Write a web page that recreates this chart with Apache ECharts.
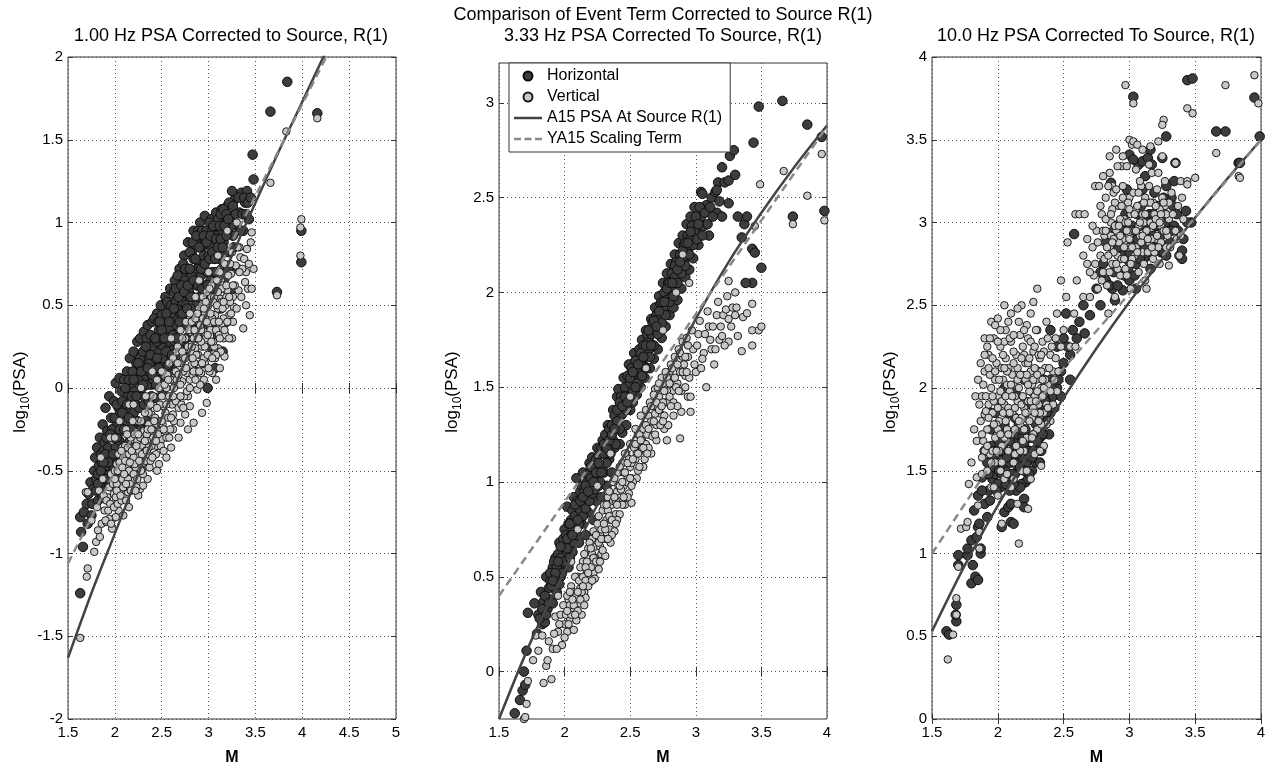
<!DOCTYPE html>
<html><head><meta charset="utf-8">
<script src="https://cdn.jsdelivr.net/npm/echarts@6/dist/echarts.min.js"></script>
<style>html,body{margin:0;padding:0;background:#fff}#c{width:1275px;height:771px}</style>
</head><body><div id="c"></div>
<script>
// ---------- DATA ----------
const titles = ['1.00 Hz PSA Corrected to Source, R(1)', 'Comparison of Event Term Corrected to Source R(1)', '3.33 Hz PSA Corrected To Source, R(1)', '10.0 Hz PSA Corrected To Source, R(1)'];
const seriesNames = ['Horizontal', 'Vertical', 'A15 PSA At Source R(1)', 'YA15 Scaling Term'];
const yTicks2 = [0, 0.5, 1, 1.5, 2, 2.5, 3];

// Panel 1: 1.00 Hz
const H1 = [[1.63,-1.24],[1.66,-0.96],[1.63,-0.78],[1.67,-0.75],[1.70,-0.70],[1.64,-0.87],[1.72,-0.64],[1.74,-0.57],[1.71,-0.82],[1.76,-0.70],[1.78,-0.50],[1.77,-0.61],[1.79,-0.42],[1.75,-0.77],[1.81,-0.36],[1.80,-0.55],
[1.83,-0.47],[1.84,-0.30],[1.86,-0.60],[1.85,-0.40],[1.87,-0.22],[1.88,-0.52],[1.89,-0.33],[1.82,-0.68],[1.90,-0.12],[1.91,-0.45],[1.92,-0.26],[1.93,-0.58],[1.94,-0.05],[1.95,-0.38],[1.96,-0.18],[1.97,-0.50],[1.98,-0.30],[1.99,-0.08],
[2.00,-0.42],[2.01,0.03],[2.02,-0.22],[2.03,-0.55],[2.04,-0.12],[2.05,0.06],[2.06,-0.35],[2.07,-0.02],[2.08,-0.25],[2.09,-0.48],[2.10,0.05],[2.11,-0.15],[2.12,-0.38],[2.13,0.10],[2.14,-0.05],[2.15,-0.28],[2.16,0.18],[2.17,-0.42],[2.18,0.02],[2.19,-0.18],
[2.20,0.22],[2.21,-0.32],[2.22,0.08],[2.23,-0.10],[2.24,0.28],[2.25,-0.22],[2.26,0.12],[2.27,0.30],[2.28,-0.04],[2.29,0.20],[2.30,-0.30],[2.31,0.34],[2.32,0.05],[2.33,0.18],[2.34,-0.12],[2.35,0.38],[2.36,0.10],[2.37,0.25],[2.38,-0.18],[2.39,0.02],
[2.40,0.40],[2.41,0.16],[2.42,0.30],[2.43,-0.06],[2.44,0.22],[2.45,0.45],[2.46,0.08],[2.47,0.35],[2.48,0.14],[2.49,0.50],
[2.50,0.26],[2.51,-0.02],[2.52,0.42],[2.53,0.18],[2.54,0.55],[2.55,0.32],[2.56,0.06],[2.57,0.47],[2.58,0.24],[2.59,0.60],
[2.60,0.38],[2.61,0.12],[2.62,0.52],[2.63,0.30],[2.64,0.65],[2.65,0.44],[2.66,0.20],[2.67,0.58],[2.68,0.36],[2.69,0.72],
[2.70,0.48],[2.71,0.25],[2.72,0.62],[2.73,0.40],[2.74,0.80],[2.75,0.55],[2.76,0.30],[2.77,0.70],[2.78,0.88],[2.79,0.46],
[2.80,0.62],[2.81,0.20],[2.82,0.82],[2.83,0.40],[2.84,0.95],[2.85,0.68],[2.86,0.10],[2.87,0.52],[2.88,0.90],[2.89,0.30],
[2.90,0.75],[2.91,1.00],[2.92,0.45],[2.93,0.85],[2.94,0.15],[2.95,0.62],[2.96,1.04],[2.97,0.35],[2.98,0.78],[2.99,0.00],
[3.00,0.92],[3.01,0.55],[3.02,0.25],[3.03,1.02],[3.04,0.70],[3.05,0.40],[3.06,0.88],[3.07,0.12],[3.08,1.06],[3.09,0.60],
[3.10,0.32],[3.11,0.96],[3.12,0.78],[3.13,0.48],[3.14,1.08],[3.15,0.22],[3.16,0.88],[3.17,0.66],[3.18,1.00],[3.19,0.40],
[3.20,1.10],[3.22,0.82],[3.23,0.58],[3.25,1.04],[3.26,0.92],[3.28,1.14],[3.30,0.98],[3.31,0.72],[3.33,1.06],[3.35,1.18],
[3.37,0.95],[3.39,1.12],[3.41,1.19],[3.43,1.02],[3.48,1.26],[3.47,1.41],[3.25,1.19],
[3.66,1.67],[3.84,1.85],[3.99,0.95],[3.99,0.76],[4.16,1.66],[3.73,0.58],
[1.80,-0.62],[1.82,-0.52],[1.84,-0.58],[1.86,-0.45],[1.87,-0.66],[1.88,-0.38],[1.90,-0.55],[1.91,-0.30],[1.92,-0.47],[1.93,-0.36],[1.95,-0.56],[1.96,-0.42],[1.97,-0.25],[1.99,-0.48],[2.00,-0.18],[2.01,-0.36],[2.02,-0.10],[2.03,-0.28],[2.04,-0.45],[2.05,-0.32],[2.06,-0.15],[2.07,-0.40],[2.08,-0.08],[2.09,-0.22],[2.10,-0.35],[2.11,0.00],[2.12,-0.20],[2.13,-0.45],[2.14,-0.15],[2.15,0.05],[2.16,-0.32],[2.17,-0.08],[2.18,-0.25],[2.19,0.10],[2.20,-0.15],[2.21,-0.02],[2.22,-0.38],[2.23,0.15],[2.24,-0.20],[2.25,0.05],[2.26,-0.12],[2.27,0.18],[2.28,-0.25],[2.29,0.00],[2.30,0.22],[2.31,-0.10],[2.32,0.12],[2.33,-0.20],[2.34,0.30],[2.35,0.02],[2.36,-0.08],[2.37,0.15],[2.38,0.32],[2.39,-0.05],[2.40,0.25],[2.41,0.05],[2.42,0.42],[2.43,0.18],[2.44,0.02],[2.45,0.28],[2.46,0.40],[2.47,0.12],[2.48,0.30],[2.49,0.05],[2.50,0.44],[2.51,0.18],[2.52,0.30],[2.53,0.08],[2.54,0.40],[2.55,0.22],[2.56,0.52],[2.57,0.14],[2.58,0.36],[2.59,0.28],[2.60,0.50],[2.61,0.20],[2.62,0.42],[2.63,0.58],[2.64,0.28],[2.65,0.52],[2.66,0.38],[2.67,0.68],[2.68,0.25],[2.69,0.48],[2.70,0.60],[2.71,0.38],[2.72,0.52],[2.73,0.75],[2.74,0.45],[2.75,0.65],[2.76,0.50],[2.77,0.38],[2.78,0.72],[2.79,0.58],[2.80,0.82],[2.81,0.48],[2.82,0.68],[2.83,0.55],[2.84,0.78],[2.85,0.35],[2.86,0.88],[2.87,0.62],[2.88,0.72],[2.89,0.95],[2.90,0.55],[2.91,0.85],[2.92,0.68],[2.93,0.95],[2.94,0.50],[2.95,0.80],[2.96,0.90],[2.97,0.58],[2.98,0.95],[2.99,0.70],[3.00,0.80],[3.01,1.00],[3.02,0.65],[3.03,0.85],[3.04,0.95],[3.05,0.55],[3.06,0.78],[3.07,0.98],[3.08,0.70],[3.09,0.92],[3.10,1.02],[3.11,0.50],[3.12,0.88],[3.13,1.05],[3.14,0.72],[3.15,0.95],[3.16,1.08],[3.17,0.82],[3.18,0.60],[3.19,1.05],[3.20,0.95],[3.21,0.72],[3.22,1.12],[3.24,0.98],[3.26,1.10],[3.27,0.85],[3.29,1.05],[3.32,1.15],[3.34,0.95],[3.36,1.05],[3.38,1.15],[3.40,1.05],[3.42,1.12],[3.45,1.15]];
const H1_core = [[2.60,0.45],[2.62,0.32],[2.63,0.48],[2.65,0.60],[2.66,0.30],[2.68,0.55],[2.69,0.40],[2.71,0.62],[2.72,0.45],[2.74,0.58],[2.75,0.72],[2.77,0.48],[2.78,0.62],[2.80,0.72],[2.81,0.55],[2.83,0.88],[2.84,0.65],[2.86,0.78],[2.87,0.92],[2.89,0.62],[2.90,0.85],[2.92,0.72],[2.93,0.60],[2.95,0.92],[2.96,0.75],[2.98,0.88],[2.99,0.62],[3.01,0.78],[3.02,0.92],[3.04,0.82],[3.05,0.98],[3.07,0.78],[3.08,0.90],[3.10,0.85],[3.12,0.98],[3.13,0.90],[3.15,0.85],[3.17,0.98],[3.19,0.92],[3.21,1.02],
[2.02,-0.30],[2.05,-0.25],[2.08,-0.15],[2.10,-0.25],[2.13,-0.10],[2.15,-0.18],[2.18,-0.05],[2.20,0.05],[2.23,-0.05],[2.25,0.15],[2.28,0.10],[2.30,0.02],[2.33,0.25],[2.35,0.12],[2.38,0.20],[2.40,0.08],[2.43,0.30],[2.45,0.18],[2.48,0.40],[2.50,0.35],[2.53,0.30],[2.55,0.45],[2.58,0.40],[1.90,-0.40],[1.93,-0.45],[1.95,-0.28],[1.98,-0.40],[1.85,-0.50],[1.88,-0.45],[1.82,-0.58]];
const V1 = [[1.63,-1.51],[1.71,-1.09],[1.70,-1.14],[1.69,-0.63],[1.71,-0.63],[1.75,-0.80],[1.78,-0.99],[1.80,-0.93],[1.82,-0.86],[1.84,-0.90],[1.86,-0.82],[1.81,-0.72],[1.83,-0.62],[1.87,-0.55],[1.89,-0.74],[1.91,-0.81],[1.94,-0.79],[1.97,-0.85],[2.01,-0.78],[2.04,-0.74],[2.09,-0.77],[1.92,-0.66],[1.96,-0.52],[1.99,-0.64],[2.02,-0.46],[2.06,-0.58],[2.08,-0.36],[2.11,-0.52],[2.14,-0.63],[2.17,-0.46],[2.19,-0.31],[2.21,-0.56],[2.24,-0.41],[2.27,-0.61],[2.30,-0.59],[2.31,-0.26],[2.34,-0.46],[2.37,-0.31],[2.39,-0.16],[2.41,-0.41],[2.44,-0.23],[2.47,-0.46],[2.50,-0.31],[2.52,-0.11],[2.54,-0.26],[2.57,-0.06],[2.60,-0.36],[2.62,-0.16],[2.64,0.01],[2.67,-0.06],[2.70,-0.21],[2.72,0.04],[2.75,-0.16],[2.77,0.09],[2.80,-0.11],[2.82,0.14],[2.84,-0.21],[2.86,0.24],[2.88,-0.01],[2.90,0.29],[2.92,0.09],[2.95,0.34],[2.98,-0.09],[3.00,0.39],[3.02,0.19],[3.04,0.09],[3.07,0.44],[3.10,0.24],[3.12,0.54],[3.14,0.39],[3.17,0.19],[3.20,0.59],[3.22,0.44],[3.24,0.69],[3.27,0.49],[3.29,0.74],[3.32,0.59],[3.34,0.79],[3.37,0.36],[3.39,0.64],[3.41,0.84],[3.44,0.44],[3.46,0.94],[3.48,0.72],[3.45,0.88],[3.40,0.70],[3.36,0.72],
[1.85,-0.42],[1.95,-0.30],[2.00,-0.30],[2.05,-0.20],[2.12,-0.25],[2.15,-0.10],[2.20,-0.10],[2.25,-0.20],[2.28,0.00],[2.33,-0.05],[2.36,-0.15],[2.40,0.10],[2.45,0.05],[2.48,-0.10],[2.50,0.10],[2.55,0.00],[2.58,0.15],[2.60,0.30],[2.63,0.10],[2.66,0.22],[2.70,0.35],[2.73,0.20],[2.76,0.40],[2.80,0.45],[2.83,0.30],[2.86,0.55],[2.90,0.65],[2.93,0.50],[2.96,0.15],[3.00,0.70],[3.03,0.55],[3.06,0.25],[3.10,0.80],[3.13,0.65],[3.16,0.30],[3.20,0.95],[3.23,0.75],[3.26,0.55],[3.30,1.00],[3.33,0.85],[3.42,0.60],[3.18,0.50],[3.08,0.05],[2.93,-0.15],[2.78,-0.25],[2.68,-0.30],[2.55,-0.42],[2.45,-0.50],[2.35,-0.55],[2.25,-0.65],[2.15,-0.72],[2.45,-0.35],[2.62,-0.25],[2.78,-0.05],[2.95,0.05],[3.12,0.12],[3.25,0.30],
[3.83,1.55],[3.66,1.24],[4.16,1.63],[3.99,1.02],[3.98,0.97],[3.98,0.80],[3.73,0.56],
[1.88,-0.65],[1.90,-0.80],[1.91,-0.68],[1.93,-0.74],[1.94,-0.60],[1.95,-0.70],[1.96,-0.82],[1.98,-0.58],[1.99,-0.72],[2.00,-0.50],[2.01,-0.66],[2.02,-0.58],[2.03,-0.70],[2.04,-0.40],[2.05,-0.62],[2.06,-0.48],[2.07,-0.68],[2.08,-0.55],[2.09,-0.42],[2.10,-0.60],[2.11,-0.35],[2.12,-0.68],[2.13,-0.48],[2.14,-0.55],[2.15,-0.40],[2.16,-0.58],[2.17,-0.30],[2.18,-0.62],[2.19,-0.50],[2.20,-0.42],[2.21,-0.28],[2.22,-0.48],[2.23,-0.60],[2.24,-0.32],[2.25,-0.52],[2.26,-0.38],[2.27,-0.45],[2.28,-0.20],[2.29,-0.50],[2.30,-0.35],[2.31,-0.45],[2.32,-0.15],[2.33,-0.38],[2.34,-0.28],[2.35,-0.40],[2.36,-0.22],[2.37,-0.48],[2.38,-0.10],[2.39,-0.35],[2.40,-0.25],[2.41,-0.05],[2.42,-0.32],[2.43,-0.18],[2.44,-0.40],[2.45,-0.12],[2.46,-0.28],[2.47,0.00],[2.48,-0.20],[2.49,-0.35],[2.50,-0.05],[2.51,-0.22],[2.52,-0.38],[2.53,0.02],[2.54,-0.15],[2.55,-0.30],[2.56,0.08],[2.57,-0.18],[2.58,-0.05],[2.59,-0.25],[2.60,0.05],[2.61,-0.10],[2.62,0.18],[2.63,-0.20],[2.64,0.10],[2.65,-0.08],[2.66,0.05],[2.67,0.25],[2.68,-0.12],[2.69,0.15],[2.70,0.02],[2.71,-0.10],[2.72,0.22],[2.73,0.10],[2.74,-0.05],[2.75,0.30],[2.76,0.12],[2.77,-0.02],[2.78,0.25],[2.79,0.35],[2.80,0.05],[2.81,0.22],[2.82,0.40],[2.83,0.08],[2.84,0.30],[2.85,0.15],[2.86,0.42],[2.87,0.10],[2.88,0.32],[2.89,0.20],[2.90,0.48],[2.91,0.02],[2.92,0.35],[2.93,0.25],[2.94,0.55],[2.95,0.18],[2.96,0.45],[2.97,0.30],[2.98,0.58],[2.99,0.20],[3.00,0.50],[3.01,0.10],[3.02,0.35],[3.03,0.62],[3.04,0.42],[3.05,0.28],[3.06,0.55],[3.07,0.18],[3.08,0.35],[3.09,0.65],[3.10,0.48],[3.11,0.32],[3.12,0.70],[3.13,0.22],[3.14,0.52],[3.15,0.62],[3.16,0.42],[3.17,0.75],[3.18,0.32],[3.19,0.55],[3.21,0.68],[3.22,0.30],[3.23,0.52],[3.25,0.82],[3.26,0.40],[3.28,0.62],[3.30,0.48],[3.31,0.85],[3.33,0.70],[3.35,0.55],[3.38,0.78],[3.40,0.50],[3.43,0.75],[3.46,0.60]];
const V1_core = [[2.00,-0.55],[2.02,-0.62],[2.03,-0.50],[2.05,-0.45],[2.06,-0.65],[2.08,-0.48],[2.09,-0.60],[2.11,-0.44],[2.12,-0.58],[2.14,-0.36],[2.15,-0.50],[2.17,-0.62],[2.18,-0.38],[2.20,-0.52],[2.21,-0.46],[2.23,-0.35],[2.24,-0.55],[2.26,-0.44],[2.27,-0.30],[2.29,-0.40],[2.30,-0.52],[2.32,-0.32],[2.33,-0.44],[2.35,-0.25],[2.36,-0.36],[2.38,-0.44],[2.39,-0.25],[2.41,-0.30],[2.42,-0.20],[2.44,-0.32],[2.13,-0.28],[2.19,-0.20],[2.25,-0.28],[2.10,-0.52],[2.16,-0.45],[2.22,-0.62],[2.28,-0.50],[2.34,-0.38],[2.40,-0.42],[2.07,-0.38],
[2.80,0.00],[2.82,0.25],[2.84,0.10],[2.85,0.35],[2.87,0.20],[2.88,0.45],[2.90,0.10],[2.91,0.38],[2.93,0.15],[2.94,0.42],[2.96,0.25],[2.97,0.52],[2.99,0.32],[3.00,0.12],[3.02,0.45],[3.03,0.28],[3.05,0.52],[3.06,0.40],[3.08,0.20],[3.09,0.50],[3.11,0.40],[3.12,0.30],[3.14,0.60],[3.15,0.48],[3.17,0.35],[3.19,0.62],[3.20,0.40],[3.22,0.55],[3.24,0.45],[3.26,0.62],[2.86,0.05],[2.92,0.28],[2.98,0.40],[3.04,0.18],[3.10,0.58],[3.16,0.52],[2.83,0.18],[2.89,0.30],[2.95,0.48],[3.01,0.60],
[2.50,-0.20],[2.55,-0.10],[2.60,-0.18],[2.65,0.10],[2.70,-0.05],[2.75,0.18],[2.58,-0.30],[2.63,0.00],[2.68,0.08],[2.73,-0.12],[2.52,-0.25],[2.57,0.05],[2.62,-0.05],[2.67,0.15],[2.72,0.30]];
const A15_1 = [[1.5,-1.63],[1.75,-1.24],[2.0,-0.88],[2.25,-0.52],[2.5,-0.18],[2.75,0.16],[3.0,0.48],[3.25,0.80],[3.5,1.12],[3.75,1.43],[4.0,1.73],[4.25,2.03],[4.3,2.09]];
const YA15_1 = [[1.5,-1.06],[2.0,-0.505],[2.5,0.05],[3.0,0.605],[3.5,1.16],[4.0,1.715],[4.3,2.05]];

// Panel 2: 3.33 Hz
const H2 = [[1.62,-0.22],[1.66,-0.15],[1.68,-0.10],[1.70,-0.07],[1.69,0.00],[1.71,0.11],[1.72,0.31],
[1.77,0.36],[1.79,0.20],[1.80,0.30],[1.82,0.42],[1.83,0.25],[1.84,0.37],[1.85,0.26],[1.86,0.50],[1.87,0.33],[1.88,0.44],[1.89,0.48],[1.90,0.38],[1.91,0.55],[1.92,0.45],[1.93,0.60],[1.94,0.42],[1.95,0.52],[1.96,0.68],[1.97,0.50],[1.98,0.64],[1.99,0.57],[2.00,0.75],
[2.01,0.62],[2.02,0.87],[2.03,0.55],[2.04,0.70],[2.05,0.80],[2.06,0.63],[2.07,0.92],[2.08,0.74],[2.09,1.02],[2.10,0.82],[2.11,0.68],[2.12,0.95],[2.13,0.78],[2.14,1.05],[2.15,0.88],[2.16,0.72],[2.17,1.00],[2.18,0.84],[2.19,1.10],[2.20,0.93],
[2.21,1.13],[2.22,0.80],[2.23,1.02],[2.24,0.90],[2.25,1.18],[2.26,0.98],[2.27,1.08],[2.28,0.92],[2.29,1.22],[2.30,1.05],[2.31,1.15],[2.32,0.98],[2.33,1.30],[2.34,1.12],[2.35,1.22],[2.36,1.05],[2.37,1.38],[2.38,1.18],[2.39,1.28],[2.40,1.45],
[2.41,1.49],[2.42,1.20],[2.43,1.35],[2.44,1.26],[2.45,1.55],[2.46,1.40],[2.47,1.30],[2.48,1.48],[2.49,1.62],[2.50,1.38],[2.51,1.52],[2.52,1.42],[2.53,1.68],[2.54,1.55],[2.55,1.46],[2.56,1.65],[2.57,1.58],[2.58,1.50],[2.59,1.75],[2.60,1.62],
[2.61,1.55],[2.62,1.80],[2.63,1.68],[2.64,1.75],[2.65,1.60],[2.66,1.86],[2.67,1.72],[2.68,1.65],[2.69,1.92],[2.70,1.80],[2.71,1.70],[2.72,1.98],[2.73,1.85],[2.74,1.76],[2.75,2.05],[2.76,1.90],[2.77,1.82],[2.78,2.10],[2.79,1.96],[2.80,1.88],
[2.81,2.15],[2.82,2.00],[2.83,1.92],[2.84,2.20],[2.85,2.05],[2.86,1.96],[2.87,2.26],[2.88,2.12],[2.89,2.02],[2.90,2.30],[2.91,2.16],[2.92,2.08],[2.93,2.36],[2.94,2.22],[2.95,2.12],[2.96,2.40],[2.97,2.28],[2.98,2.18],[2.99,2.45],[3.00,2.32],
[3.02,2.25],[3.04,2.40],[3.04,2.53],[3.06,2.35],[3.08,2.46],[3.10,2.30],[3.12,2.50],[3.15,2.53],[3.16,2.42],[3.17,2.58],[3.20,2.40],[3.20,2.66],[3.22,2.58],[3.25,2.47],[3.25,2.59],[3.26,2.72],[3.29,2.75],[3.30,2.62],
[3.32,2.40],[3.37,2.36],[3.39,2.40],[3.35,2.29],[3.43,2.23],[3.45,2.21],[3.50,2.13],[3.43,2.05],[3.38,2.05],[3.74,2.40],[3.98,2.43],[3.44,2.79],[3.48,2.98],[3.66,3.01],[3.85,2.885],[3.96,2.82],[3.05,2.52],[3.16,2.54],
[1.81,0.28],[1.83,0.33],[1.85,0.40],[1.86,0.30],[1.88,0.36],[1.89,0.52],[1.90,0.45],[1.91,0.36],[1.92,0.58],[1.93,0.48],[1.94,0.55],[1.95,0.62],[1.96,0.46],[1.97,0.60],[1.98,0.52],[1.99,0.70],[2.00,0.58],[2.01,0.72],[2.02,0.65],[2.03,0.78],[2.04,0.60],[2.05,0.72],[2.06,0.85],[2.07,0.68],[2.08,0.82],[2.09,0.72],[2.10,0.90],[2.11,0.78],[2.12,0.85],[2.13,0.98],[2.14,0.82],[2.15,0.95],[2.16,0.86],[2.17,0.92],[2.18,1.04],[2.19,0.90],[2.20,1.02],[2.21,0.94],[2.22,1.08],[2.23,0.96],[2.24,1.12],[2.25,1.04],[2.26,1.14],[2.27,1.00],[2.28,1.18],[2.29,1.08],[2.30,1.15],[2.31,1.25],[2.32,1.10],[2.33,1.20],[2.34,1.28],[2.35,1.15],[2.36,1.30],[2.37,1.22],[2.38,1.35],[2.39,1.20],[2.40,1.32],[2.41,1.38],[2.42,1.28],[2.43,1.45],[2.44,1.36],[2.45,1.42],[2.46,1.50],[2.47,1.38],[2.48,1.56],[2.49,1.45],[2.50,1.52],[2.51,1.60],[2.52,1.48],[2.53,1.56],[2.54,1.64],[2.55,1.52],[2.56,1.58],[2.57,1.70],[2.58,1.62],[2.59,1.56],[2.60,1.72],[2.61,1.66],[2.62,1.60],[2.63,1.78],[2.64,1.70],[2.65,1.66],[2.66,1.78],[2.67,1.84],[2.68,1.72],[2.69,1.80],[2.70,1.88],[2.71,1.78],[2.72,1.86],[2.73,1.94],[2.74,1.84],[2.75,1.92],[2.76,2.00],[2.77,1.88],[2.78,1.96],[2.79,2.05],[2.80,1.95],[2.81,2.02],[2.82,2.10],[2.83,1.98],[2.84,2.08],[2.85,2.16],[2.86,2.05],[2.87,2.12],[2.88,2.20],[2.89,2.10],[2.90,2.18],[2.91,2.25],[2.92,2.14],[2.93,2.22],[2.94,2.30],[2.95,2.20],[2.96,2.28],[2.97,2.35],[2.98,2.25],[2.99,2.32],[3.00,2.40],[3.01,2.28],[3.02,2.36],[3.03,2.45],[3.05,2.30],[3.07,2.42],[3.09,2.36],[3.11,2.45],[3.13,2.40],[3.18,2.48]];
const H2_core = [[2.02,0.70],[2.04,0.78],[2.06,0.72],[2.08,0.88],[2.10,0.80],[2.12,0.90],[2.14,0.92],[2.16,0.98],[2.18,0.95],[2.20,1.08],[2.22,1.00],[2.24,1.05],[2.26,1.10],[2.28,1.05],[2.30,1.20],[2.32,1.18],[2.34,1.22],[2.36,1.25],[2.38,1.28],[2.40,1.38],[2.42,1.42],[2.44,1.40],[2.46,1.45],[2.48,1.42],[2.50,1.55],[2.52,1.58],[2.54,1.50],[2.56,1.62],[2.58,1.68],[2.60,1.66],[2.62,1.72],[2.64,1.80],[2.66,1.72],[2.68,1.85],[2.70,1.82],[2.72,1.90],[2.74,1.95],[2.76,1.95],[2.78,2.02],[2.80,2.05],[2.82,2.05],[2.84,2.14],[2.86,2.12],[2.88,2.16],[2.90,2.22],[2.92,2.26],[2.94,2.26],[2.96,2.32],[1.95,0.58],[1.97,0.66],[1.93,0.52],[1.91,0.48]];
const V2 = [[1.69,-0.25],[1.70,-0.24],[1.71,-0.17],[1.72,-0.05],[1.76,0.06],[1.78,0.19],[1.80,0.11],[1.83,0.19],[1.84,-0.06],[1.86,0.03],[1.87,0.06],[1.88,0.16],[1.90,-0.04],[1.91,0.12],[1.93,0.29],[1.95,0.21],[1.97,0.30],[1.98,0.14],[2.00,0.25],[2.02,0.21],
[2.03,0.38],[2.04,0.28],[2.05,0.45],[2.06,0.33],[2.07,0.22],[2.08,0.40],[2.09,0.27],[2.10,0.50],[2.11,0.36],[2.12,0.44],[2.13,0.30],[2.14,0.58],[2.15,0.42],[2.16,0.39],[2.17,0.52],[2.18,0.65],[2.19,0.47],[2.20,0.58],[2.21,0.70],[2.22,0.52],[2.23,0.49],[2.24,0.66],[2.25,0.78],[2.26,0.54],[2.27,0.72],[2.28,0.62],[2.29,0.85],[2.30,0.70],[2.31,0.61],[2.32,0.80],[2.33,0.92],[2.34,0.75],[2.35,0.68],[2.36,0.88],[2.37,1.00],[2.38,0.74],[2.39,0.83],[2.40,0.95],[2.41,1.05],[2.42,0.83],[2.43,0.90],[2.44,1.10],[2.45,0.98],[2.46,0.88],[2.47,1.15],[2.48,1.02],[2.49,0.94],[2.50,1.08],[2.51,0.89],[2.51,1.02],[2.52,1.20],[2.54,1.12],[2.55,1.02],[2.56,1.25],[2.57,1.16],[2.59,1.22],[2.60,1.08],[2.61,1.30],[2.62,1.20],[2.64,1.35],[2.65,1.25],[2.66,1.15],[2.68,1.40],[2.69,1.49],[2.70,1.30],[2.72,1.45],[2.73,1.36],[2.75,1.52],[2.76,1.28],[2.77,1.42],[2.78,1.22],[2.79,1.42],[2.80,1.58],[2.82,1.48],[2.83,1.35],[2.85,1.62],[2.86,1.52],[2.88,1.23],[2.89,1.37],[2.90,1.66],[2.92,1.56],[2.94,1.45],[2.96,1.37],[2.96,1.45],[2.98,1.70],[3.00,1.58],[3.02,1.78],[3.04,1.60],[3.06,1.68],[3.08,1.50],[3.10,1.82],[3.12,1.70],[3.14,1.62],[3.16,1.88],[3.18,1.75],[3.20,1.77],[3.21,1.88],[3.23,1.91],[3.25,1.74],[3.25,1.86],[3.25,2.06],[3.28,1.92],[3.30,2.00],[3.31,1.92],[3.32,1.77],[3.35,1.69],[3.36,1.87],[3.39,1.89],[3.43,1.72],[3.43,1.80],[3.43,1.94],[3.48,1.80],[3.50,1.82],
[2.10,0.75],[2.25,0.98],[2.35,1.15],[2.50,1.45],[2.62,1.60],[2.75,1.80],[2.85,2.00],[2.95,2.05],[2.05,0.58],[1.95,0.40],[2.90,2.20],
[3.45,2.35],[3.74,2.36],[3.98,2.38],[3.49,2.57],[3.67,2.64],[3.85,2.51],[3.96,2.73],
[1.92,0.20],[1.94,0.12],[1.96,0.25],[1.99,0.35],[2.00,0.18],[2.01,0.30],[2.02,0.40],[2.03,0.25],[2.04,0.35],[2.05,0.30],[2.06,0.42],[2.07,0.35],[2.08,0.50],[2.09,0.40],[2.10,0.32],[2.11,0.48],[2.12,0.55],[2.13,0.42],[2.14,0.50],[2.15,0.62],[2.16,0.48],[2.17,0.58],[2.18,0.45],[2.19,0.68],[2.20,0.55],[2.21,0.62],[2.22,0.74],[2.23,0.60],[2.24,0.72],[2.25,0.58],[2.26,0.82],[2.27,0.66],[2.28,0.75],[2.29,0.64],[2.30,0.88],[2.31,0.75],[2.32,0.70],[2.33,0.85],[2.34,0.95],[2.35,0.80],[2.36,0.72],[2.37,0.90],[2.38,1.02],[2.39,0.90],[2.40,0.80],[2.41,0.98],[2.42,1.08],[2.43,0.96],[2.44,0.88],[2.45,1.05],[2.46,1.15],[2.47,1.00],[2.48,0.92],[2.49,1.12],[2.50,1.20],[2.51,1.10],[2.52,1.00],[2.53,1.18],[2.54,1.28],[2.55,1.15],[2.56,1.06],[2.57,1.25],[2.58,1.35],[2.59,1.18],[2.60,1.28],[2.61,1.12],[2.62,1.38],[2.63,1.25],[2.64,1.18],[2.65,1.42],[2.66,1.32],[2.67,1.24],[2.68,1.46],[2.69,1.36],[2.70,1.22],[2.71,1.50],[2.72,1.38],[2.73,1.30],[2.74,1.55],[2.75,1.42],[2.76,1.35],[2.77,1.58],[2.78,1.48],[2.79,1.30],[2.80,1.45],[2.81,1.62],[2.82,1.55],[2.83,1.42],[2.84,1.66],[2.85,1.50],[2.86,1.40],[2.87,1.70],[2.88,1.58],[2.89,1.48],[2.90,1.74],[2.91,1.62],[2.92,1.50],[2.93,1.76],[2.94,1.66],[2.95,1.55],[2.97,1.80],[2.99,1.62],[3.01,1.72],[3.03,1.85],[3.05,1.65],[3.07,1.78],[3.09,1.90],[3.11,1.75],[3.13,1.82],[3.15,1.70],[3.17,1.95],[3.19,1.82],[3.22,1.72],[3.24,1.98],[3.27,1.82],[3.30,1.88]];
const V2_core = [[2.02,0.32],[2.04,0.42],[2.06,0.38],[2.08,0.30],[2.10,0.42],[2.12,0.38],[2.14,0.45],[2.16,0.55],[2.18,0.52],[2.20,0.65],[2.22,0.60],[2.24,0.58],[2.26,0.68],[2.28,0.70],[2.30,0.78],[2.32,0.88],[2.34,0.82],[2.36,0.80],[2.38,0.92],[2.40,0.88],[2.42,0.98],[2.44,1.00],[2.46,1.05],[2.48,1.10],[2.50,1.02],[2.52,1.12],[2.54,1.20],[2.56,1.15],[2.58,1.22],[2.60,1.18],[2.62,1.30],[2.64,1.28],[2.66,1.40],[2.68,1.32],[2.70,1.42],[2.72,1.52],[2.74,1.40],[2.76,1.48],[2.78,1.55],[2.80,1.52],[2.82,1.60],[2.84,1.55],[2.86,1.62],[2.88,1.68],[2.90,1.58],[2.92,1.66],[2.94,1.72],[2.15,0.35],[2.21,0.48],[2.27,0.58],[2.33,0.70],[2.39,0.78],[2.45,0.92],[2.51,0.98],[2.57,1.08],[2.63,1.15],[2.69,1.25],[2.75,1.32],[2.81,1.40],[2.87,1.48],[2.93,1.58]];
const A15_2 = [[1.5,-0.25],[1.75,0.17],[2.0,0.53],[2.25,0.88],[2.5,1.20],[2.75,1.52],[3.0,1.86],[3.25,2.16],[3.5,2.42],[3.75,2.66],[4.0,2.88]];
const YA15_2 = [[1.5,0.40],[2.0,0.895],[2.5,1.39],[3.0,1.885],[3.5,2.38],[4.0,2.875]];

// Panel 3: 10.0 Hz
const H3 = [[1.61,0.53],[1.63,0.51],[1.685,0.59],[1.685,0.69],[1.68,0.63],[1.70,0.99],[1.70,0.93],[1.77,0.99],[1.81,0.93],[1.87,1.00],[1.80,0.82],[1.83,0.86],[1.85,0.84],[1.77,1.03],[1.87,1.03],[1.80,1.08],[1.84,1.10],[1.85,1.16],[1.86,1.18],[1.82,1.26],[1.85,1.35],[1.88,1.46],[1.90,1.30],[1.93,1.38],[1.96,1.45],[1.94,1.32],[2.03,1.16],[2.10,1.19],[2.12,1.18],[2.05,1.25],[2.08,1.28],[2.10,1.30],[2.20,1.33],[2.20,1.28],[2.21,1.43],[2.15,1.50],[2.11,1.55],[2.08,1.60],[2.20,1.66],[2.25,1.70],[2.30,1.80],[2.34,1.83],[2.35,1.88],[2.38,1.95],
[1.92,1.55],[1.95,1.65],[1.98,1.48],[2.00,1.60],[2.02,1.40],[2.04,1.72],[2.06,1.50],[2.10,1.45],[2.12,1.68],[2.14,1.38],[2.16,1.58],[2.18,1.42],[2.22,1.55],[2.24,1.62],[2.26,1.50],[2.28,1.72],[2.30,1.62],[2.32,1.70],[2.36,1.78],[2.40,1.85],[2.42,1.95],[2.45,2.00],[1.98,1.85],[2.05,2.00],[2.15,1.95],[2.20,2.05],[2.30,2.10],[1.95,1.75],[2.10,1.85],[2.25,1.90],[2.40,2.05],[2.48,1.95],[2.55,2.05],
[2.48,2.10],[2.55,2.20],[2.60,2.30],[2.66,2.33],[2.70,2.44],[2.58,2.93],[2.62,2.40],[2.50,2.30],[2.45,2.25],[2.40,2.35],[2.52,2.45],[2.65,2.50],
[2.75,2.60],[2.78,2.50],[2.80,2.75],[2.82,2.65],[2.84,2.90],[2.86,3.24],[2.87,2.60],[2.89,2.53],[2.90,2.85],[2.92,2.70],[2.95,2.59],[2.96,2.95],[2.98,2.78],[3.00,3.41],[3.00,2.65],[3.02,2.88],[3.05,2.75],[3.07,3.35],[3.08,2.98],[3.10,3.37],[3.12,2.85],[3.14,3.39],[3.15,3.05],[3.16,3.44],[3.17,3.35],[3.18,2.92],[3.20,2.85],[3.22,3.10],[3.24,2.82],[3.25,3.39],[3.26,2.82],[3.28,3.52],[3.29,3.00],[3.30,2.95],[3.32,3.15],[3.34,3.25],[3.34,2.98],[3.36,3.05],[3.38,2.80],[3.40,2.83],[3.40,2.78],[3.43,3.07],[3.47,3.00],[3.35,3.36],[3.03,3.76],[3.03,3.38],[3.10,3.20],[3.05,2.60],[2.93,3.00],
[3.44,3.86],[3.48,3.87],[3.66,3.55],[3.73,3.55],[3.83,3.36],[3.84,3.36],[3.95,3.755],[3.99,3.52],
[1.97,1.52],[2.00,1.42],[2.02,1.62],[2.05,1.55],[2.07,1.70],[2.09,1.38],[2.11,1.62],[2.13,1.48],[2.15,1.72],[2.17,1.40],[2.19,1.58],[2.21,1.75],[2.23,1.45],[2.25,1.60],[2.27,1.82],[2.29,1.55],[2.31,1.72],[2.33,1.90],[2.35,1.72],[2.37,1.85],[2.39,1.72],[2.41,2.00],[2.43,1.88],[2.46,2.05],[2.50,2.15],[2.53,2.25],[2.57,2.35],
[2.78,2.70],[2.82,2.88],[2.85,2.62],[2.88,2.95],[2.91,2.62],[2.94,2.82],[2.97,3.05],[2.99,2.72],[3.02,2.98],[3.04,2.68],[3.06,2.90],[3.09,3.10],[3.11,2.78],[3.13,3.00],[3.16,2.72],[3.19,3.18],[3.21,2.98],[3.23,2.88],[3.27,3.05],[3.31,2.88],[3.33,3.10],[3.37,2.95],[3.41,2.90],[3.44,3.00],[3.12,3.28],[2.98,3.20],[3.28,3.22]];
const H3_core = [[1.98,1.62],[2.01,1.50],[2.04,1.65],[2.06,1.42],[2.09,1.55],[2.12,1.42],[2.14,1.60],[2.17,1.52],[2.19,1.70],[2.22,1.62],[2.24,1.48],[2.27,1.62],[2.29,1.78],[2.32,1.55],[2.34,1.72],[2.00,1.78],[2.08,1.85],[2.16,1.78],[2.24,1.82],[2.30,1.95],
[1.93,1.48],[1.96,1.58],[1.99,1.38],[2.01,1.68],[2.03,1.48],[2.05,1.78],[2.07,1.58],[2.09,1.68],[2.11,1.48],[2.13,1.82],[2.15,1.62],[2.18,1.75],[2.20,1.50],[2.22,1.82],[2.24,1.70],[2.26,1.58],[2.28,1.90],[2.30,1.68],[2.33,1.62],[2.36,1.92],[2.38,1.80],[1.90,1.62],[1.94,1.85],[2.02,1.92],[2.12,2.00],[2.19,1.92],[2.26,1.98],[2.35,2.05],[1.88,1.38],[1.92,1.22],
[2.88,2.70],[2.92,2.85],[2.96,2.68],[3.00,2.82],[3.04,2.95],[3.08,2.78],[3.12,2.92],[3.16,2.82],[3.20,2.98],[3.24,2.92],[3.28,2.80],[3.32,2.95],[2.94,2.95],[3.06,3.05],[3.18,3.05],[3.26,3.15]];
const V3 = [[1.62,0.36],[1.66,0.51],[1.685,0.63],[1.685,0.73],[1.70,0.92],[1.72,1.15],[1.76,1.16],[1.77,1.19],[1.85,1.29],[1.86,1.13],[1.86,1.03],[1.84,1.46],[1.88,1.48],[1.84,1.68],[1.89,1.68],[1.87,1.80],[1.90,1.84],[1.91,1.86],[1.93,1.90],[2.23,1.27],[2.16,1.06],[2.03,1.18],[2.33,1.53],[2.33,1.84],[1.80,1.55],[1.78,1.42],[1.82,1.75],[1.83,1.95],[1.85,2.05],
[1.88,1.95],[1.90,2.10],[1.92,1.75],[1.93,2.20],[1.94,1.60],[1.95,2.00],[1.96,1.85],[1.97,2.30],[1.98,1.70],[1.99,2.15],[2.00,1.95],[2.01,1.80],[2.02,2.25],[2.03,1.65],[2.04,2.05],[2.05,1.90],[2.06,2.35],[2.07,1.75],[2.08,2.12],[2.09,1.98],[2.10,2.28],[2.11,1.85],[2.12,2.02],[2.13,1.60],[2.14,2.20],[2.15,1.92],[2.16,2.40],[2.17,1.78],[2.18,2.08],[2.19,2.25],[2.20,1.88],[2.21,2.15],[2.22,1.70],[2.23,2.30],[2.24,1.98],[2.25,2.10],[2.26,1.82],[2.27,2.22],[2.28,1.95],[2.29,2.05],[2.30,2.35],[2.31,1.90],[2.32,2.18],[2.33,2.00],[2.34,2.28],[2.35,1.85],[2.36,2.12],[2.37,2.40],[2.38,2.02],[2.40,2.20],[2.42,2.10],[2.44,2.30],[2.45,1.98],
[1.92,1.50],[1.95,1.40],[1.98,1.55],[2.00,1.35],[2.02,1.50],[2.05,1.45],[2.08,1.62],[2.10,1.40],[2.12,1.55],[2.15,1.30],[2.18,1.50],[2.20,1.62],[2.25,1.45],[2.28,1.60],[2.30,1.75],[2.35,1.65],[2.40,1.80],
[1.95,2.40],[2.00,2.42],[2.05,2.50],[2.10,2.45],[2.18,2.50],[2.30,2.60],[2.27,2.52],[2.22,2.38],[1.90,2.30],[2.05,2.28],
[2.45,2.45],[2.50,2.35],[2.52,2.55],[2.55,2.25],[2.58,2.45],[2.53,2.88],[2.59,3.05],[2.62,3.05],[2.66,3.05],[2.60,2.65],[2.65,2.55],[2.68,2.75],[2.59,2.25],[2.48,2.65],
[2.70,2.55],[2.72,2.85],[2.73,2.68],[2.74,3.22],[2.75,2.95],[2.76,2.60],[2.77,3.22],[2.78,2.80],[2.79,3.05],[2.80,2.70],[2.81,2.92],[2.82,3.15],[2.83,2.62],[2.84,2.45],[2.85,2.85],[2.85,3.40],[2.86,3.00],[2.87,2.75],[2.88,3.18],[2.89,2.55],[2.90,2.95],[2.90,3.44],[2.91,2.80],[2.92,3.10],[2.93,2.68],[2.94,3.34],[2.95,2.90],[2.96,3.02],[2.97,2.72],[2.97,3.83],[2.98,3.34],[2.99,2.85],[3.00,3.50],[3.00,3.15],[3.01,2.60],[3.02,2.95],[3.02,3.47],[3.03,3.72],[3.03,3.49],[3.04,2.80],[3.05,3.08],[3.06,3.47],[3.07,2.70],[3.08,2.92],[3.09,3.22],[3.10,2.82],[3.10,3.44],[3.11,3.00],[3.12,2.65],[3.13,2.60],[3.14,3.12],[3.15,2.88],[3.16,3.46],[3.17,3.30],[3.18,2.78],[3.19,3.05],[3.20,2.90],[3.21,3.20],[3.22,3.49],[3.23,2.75],[3.24,2.98],[3.25,3.40],[3.26,3.62],[3.25,3.59],[3.27,3.10],[3.28,2.85],[3.30,2.74],[3.30,3.02],[3.32,3.18],[3.35,3.36],[3.36,2.90],[3.38,2.80],[3.39,3.25],[3.40,3.15],[3.44,3.25],[3.44,3.23],[3.50,3.27],[2.91,3.34],[2.87,3.22],
[3.95,3.89],[3.73,3.83],[3.98,3.72],[3.66,3.42],[3.83,3.28],[3.84,3.27],[3.44,3.69],[3.48,3.66],
[1.86,1.90],[1.87,2.15],[1.88,1.72],[1.89,2.02],[1.90,1.62],[1.91,1.95],[1.92,2.25],[1.93,1.82],[1.94,2.08],[1.95,1.55],[1.96,2.18],[1.97,1.92],[1.98,2.05],[1.99,1.78],[2.00,2.28],[2.01,1.62],[2.02,1.98],[2.03,2.12],[2.04,1.85],[2.05,1.70],[2.06,2.18],[2.07,2.02],[2.08,1.88],[2.09,2.30],[2.10,1.72],[2.11,2.08],[2.12,2.22],[2.13,1.95],[2.14,1.82],[2.15,2.12],[2.16,2.00],[2.17,2.32],[2.18,1.90],[2.19,1.68],[2.20,2.20],[2.21,2.05],[2.22,1.92],[2.23,2.15],[2.24,1.80],[2.25,2.28],[2.26,2.02],[2.27,1.88],[2.28,2.12],[2.29,2.35],[2.30,1.98],[2.31,2.20],[2.32,1.85],[2.33,2.10],[2.34,1.95],[2.35,2.22],[2.36,2.05],[2.37,1.90],[2.38,2.30],[2.39,2.12],[2.40,1.98],[2.41,2.25],[2.43,2.05],[2.44,2.18],[2.46,2.10],[2.48,2.25],
[1.90,2.20],[1.94,2.30],[1.98,2.38],[2.02,2.35],[2.08,2.40],[2.12,2.32],[2.15,2.48],[2.20,2.35],[2.25,2.45],[1.88,1.58],[1.92,1.65],[1.97,1.40],[2.03,1.55],[2.07,1.48],[2.12,1.45],[2.17,1.62],[2.22,1.50],[2.27,1.72],[2.32,1.62],[2.37,1.78],[2.42,1.90],[1.96,1.62],[2.00,1.75],[2.06,1.80],[2.13,1.75],[2.18,1.82],[2.23,1.92],[2.28,1.85],[2.33,1.78],[2.38,1.88],
[2.72,2.98],[2.74,2.75],[2.76,2.88],[2.78,3.10],[2.79,2.65],[2.80,2.95],[2.81,2.78],[2.82,3.02],[2.83,2.85],[2.84,3.22],[2.85,2.70],[2.86,2.92],[2.87,3.08],[2.88,2.82],[2.89,2.98],[2.90,3.20],[2.91,2.72],[2.92,2.88],[2.93,3.02],[2.94,2.78],[2.95,3.15],[2.96,2.85],[2.97,3.00],[2.98,2.68],[2.99,3.12],[3.00,2.90],[3.01,3.05],[3.02,2.78],[3.03,3.18],[3.04,2.95],[3.05,2.85],[3.06,3.10],[3.07,2.98],[3.08,3.25],[3.09,2.88],[3.10,3.05],[3.11,2.75],[3.12,3.15],[3.13,2.95],[3.14,2.82],[3.15,3.22],[3.16,3.00],[3.17,2.90],[3.18,3.12],[3.19,2.82],[3.20,3.02],[3.21,2.92],[3.22,3.30],[3.23,3.08],[3.24,2.88],[3.25,3.15],[3.26,2.95],[3.27,3.25],[3.28,3.05],[3.29,2.92],[3.30,3.12],[3.31,2.85],[3.33,3.05],[3.35,2.95],[3.37,3.10],[3.39,2.92],[3.41,3.02],[2.85,3.30],[2.95,3.40],[3.05,3.32],[3.15,3.35],[2.80,3.28],[2.70,2.70],[2.68,2.90],[2.65,2.80]];
const V3_core = [[1.96,1.95],[1.98,2.10],[2.00,1.88],[2.01,2.05],[2.03,1.92],[2.04,2.20],[2.06,1.95],[2.07,2.10],[2.09,1.85],[2.10,2.02],[2.12,2.15],[2.13,1.88],[2.15,2.05],[2.16,1.80],[2.18,2.18],[2.19,1.95],[2.21,1.85],[2.22,2.08],[2.24,2.18],[2.25,1.92],[2.27,2.05],[2.28,2.25],[2.30,2.08],[2.31,1.80],[2.33,2.20],[2.34,2.05],[2.02,1.72],[2.08,1.72],[2.14,1.65],[2.20,1.75],[2.26,1.70],[1.99,1.62],[2.05,2.12],[2.11,1.95],[2.17,2.08],[2.23,2.02],[2.29,1.92],[1.93,2.12],[1.97,1.78],[2.35,2.00],
[2.82,2.95],[2.84,2.80],[2.86,3.05],[2.88,2.90],[2.90,2.75],[2.92,2.98],[2.94,3.10],[2.96,2.78],[2.98,2.95],[3.00,3.08],[3.02,2.85],[3.04,3.05],[3.06,2.82],[3.08,3.00],[3.10,2.92],[3.12,3.05],[3.14,2.90],[3.16,3.12],[3.18,2.98],[3.20,3.10],[3.22,2.85],[3.24,3.05],[3.26,3.12],[3.28,2.95],[2.87,2.88],[2.93,2.92],[2.99,3.00],[3.05,2.95],[3.11,3.12],[3.17,2.85],[3.23,3.00],[2.95,3.22],[3.07,3.18],[2.89,3.12],[3.01,2.75]];
const A15_3 = [[1.5,0.53],[1.75,0.93],[2.0,1.29],[2.25,1.62],[2.5,1.94],[2.75,2.24],[3.0,2.52],[3.25,2.78],[3.5,3.03],[3.75,3.27],[4.0,3.50]];
const YA15_3 = [[1.5,1.0],[2.0,1.6],[2.5,2.12],[3.0,2.57],[3.5,3.03],[4.0,3.5]];

// ---------- CHART ----------
const FONT = '"Liberation Sans", Arial, Helvetica, sans-serif';
const chart = echarts.init(document.getElementById('c'), null, {renderer: 'canvas'});

const grids = [
  {left: 68, top: 57, width: 328, height: 671},
  {left: 499, top: 63, width: 328, height: 665},
  {left: 932, top: 57, width: 329, height: 671}
].map(g => Object.assign(g, {show: true, borderColor: '#333', borderWidth: 1, backgroundColor: '#fff'}));

const xMax = [5, 4, 4];
const yRange = [[-2, 2], [-0.25, 3.21], [0, 4]];

function xAxisFor(g, pos) {
  const main = pos === 'bottom';
  return {
    type: 'value', gridIndex: g, position: pos, min: 1.5, max: xMax[g], interval: 0.5,
    axisLine: {show: false},
    axisTick: {show: true, inside: true, length: 5, lineStyle: {color: '#333'}},
    axisLabel: {show: main, color: '#000', fontSize: 15, fontFamily: FONT, margin: 6},
    splitLine: {show: main, lineStyle: {color: '#555', width: 1, type: [1, 3]}},
    name: main ? 'M' : '', nameLocation: 'middle', nameGap: 31,
    nameTextStyle: {color: '#000', fontSize: 16, fontWeight: 'bold', fontFamily: FONT}
  };
}
function yAxisFor(g, pos) {
  const main = pos === 'left';
  const ax = {
    type: 'value', gridIndex: g, position: pos, min: yRange[g][0], max: yRange[g][1], interval: 0.5,
    axisLine: {show: false},
    axisTick: {show: true, inside: true, length: 5, lineStyle: {color: '#333'}},
    axisLabel: {show: main, color: '#000', fontSize: 15, fontFamily: FONT, margin: 5},
    splitLine: {show: main, lineStyle: {color: '#555', width: 1, type: [1, 3]}}
  };
  if (g === 1) {
    delete ax.interval;
    ax.axisTick.customValues = yTicks2;
    ax.axisLabel.customValues = yTicks2;
  }
  return ax;
}

const xAxes = [0, 1, 2].map(g => xAxisFor(g, 'bottom')).concat([0, 1, 2].map(g => xAxisFor(g, 'top')));
const yAxes = [0, 1, 2].map(g => yAxisFor(g, 'left')).concat([0, 1, 2].map(g => yAxisFor(g, 'right')));

const panels = [
  [H1.concat(H1_core), V1.concat(V1_core), A15_1, YA15_1],
  [H2.concat(H2_core), V2.concat(V2_core), A15_2, YA15_2],
  [H3.concat(H3_core), V3.concat(V3_core), A15_3, YA15_3]
];
const series = [];
panels.forEach((p, g) => {
  series.push({name: seriesNames[0], type: 'scatter', xAxisIndex: g, yAxisIndex: g, data: p[0], symbol: 'circle', symbolSize: 9.5,
    itemStyle: {color: '#3d3d3d', borderColor: '#0d0d0d', borderWidth: 1, opacity: 1}, z: 2});
  series.push({name: seriesNames[1], type: 'scatter', xAxisIndex: g, yAxisIndex: g, data: p[1], symbol: 'circle', symbolSize: 7.5,
    itemStyle: {color: '#c8c8c8', borderColor: '#1a1a1a', borderWidth: 1, opacity: 1}, z: 3});
  series.push({name: seriesNames[2], type: 'line', xAxisIndex: g, yAxisIndex: g, data: p[2], symbol: 'none', smooth: 0.3,
    lineStyle: {color: '#444', width: 2.5, type: 'solid'}, itemStyle: {color: '#444'}, z: 4, clip: true});
  series.push({name: seriesNames[3], type: 'line', xAxisIndex: g, yAxisIndex: g, data: p[3], symbol: 'none',
    lineStyle: {color: '#888', width: 2.5, type: [8, 5]}, itemStyle: {color: '#888'}, z: 5, clip: true});
});

function txt(x, y, text, size, extra) {
  return Object.assign({type: 'text', x: x, y: y, z: 100, style: {text: text, fontSize: size, fontFamily: FONT, fill: '#000',
    align: 'center', verticalAlign: 'middle', textAlign: 'center', textVerticalAlign: 'middle'}}, extra || {});
}
function yName(x, y) {
  const t = txt(x, y, '{a|log}{b|10}{a|(PSA)}', 17, {rotation: Math.PI / 2});
  t.style.rich = {a: {fontSize: 17, fontFamily: FONT, fill: '#000'}, b: {fontSize: 12, fontFamily: FONT, fill: '#000', padding: [12, 0, 0, 0]}};
  return t;
}

const option = {
  animation: false,
  backgroundColor: '#fff',
  textStyle: {fontFamily: FONT},
  grid: grids,
  xAxis: xAxes,
  yAxis: yAxes,
  legend: {
    orient: 'vertical', left: 509, top: 63, padding: [5, 8, 5, 5], itemGap: 5, itemWidth: 28, itemHeight: 9,
    backgroundColor: '#fff', borderColor: '#333', borderWidth: 1, borderRadius: 0, selectedMode: false,
    textStyle: {fontSize: 16, color: '#000', fontFamily: FONT, lineHeight: 16},
    data: [
      {name: seriesNames[0]},
      {name: seriesNames[1]},
      {name: seriesNames[2], icon: 'path://M0,0H28V2.5H0Z'},
      {name: seriesNames[3], icon: 'path://M0,0H7V2.5H0Z M10.5,0H17.5V2.5H10.5Z M21,0H28V2.5H21Z'}
    ],
    z: 50
  },
  graphic: [
    txt(231, 36, titles[0], 18),
    txt(663, 15, titles[1], 18),
    txt(663, 36, titles[2], 18),
    txt(1096, 36, titles[3], 18),
    yName(20, 392),
    yName(452, 392),
    yName(890, 392)
  ],
  series: series
};
chart.setOption(option);
</script>
</body></html>
